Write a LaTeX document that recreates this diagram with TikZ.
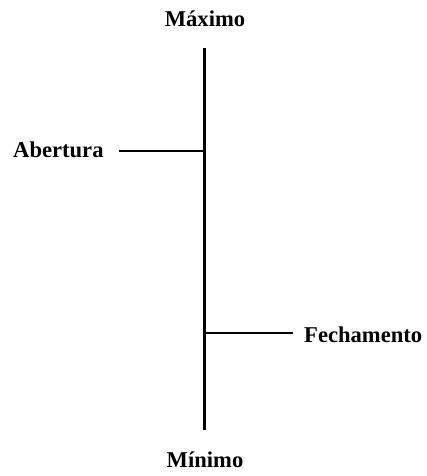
\documentclass[tikz,border=0pt]{standalone}
\usepackage{fontspec}
\setmainfont{Liberation Serif}
\begin{document}
\begin{tikzpicture}[x=1pt, y=-1pt,
	txt/.style = {font=\fontsize{22.6}{27}\selectfont\bfseries, inner sep=0pt, anchor=base},
	bar/.style = {line width=2.3pt}]
	\useasboundingbox (0,0) rectangle (426,476);
	\node[txt] (maximo) at (205,27) {Máximo};
	\node[txt] (minimo) at (205,467) {Mínimo};
	\coordinate (top) at (204.5,48);
	\coordinate (bottom) at (204.5,430);
	\draw[bar] (top) -- (bottom);
	% abertura
	\coordinate (ab) at (204.5,151);
	\coordinate (abend) at (119,151);
	\node[txt, anchor=base west] (abertura) at (13,157) {Abertura};
	\draw[bar] (ab) -- (abend);
	% fechamento
	\coordinate (fe) at (204.5,333);
	\coordinate (feend) at (293,333);
	\node[txt, anchor=base west] (fechamento) at (304,342) {Fechamento};
	\draw[bar] (fe) -- (feend);
\end{tikzpicture}
\end{document}
